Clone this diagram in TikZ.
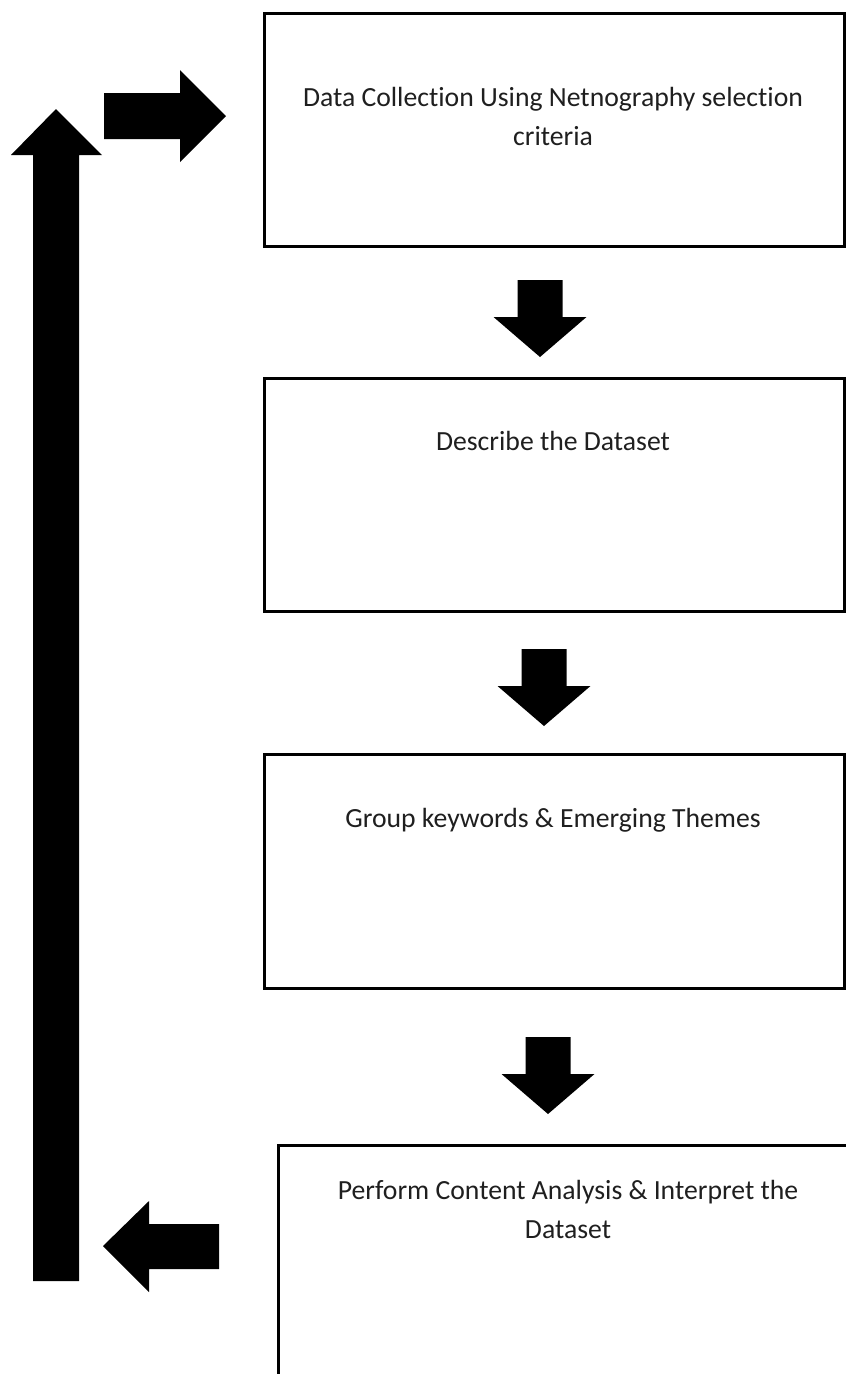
\documentclass[tikz,border=0pt]{standalone}
\usepackage{fontspec}
\setmainfont{Carlito}[Ligatures={NoCommon}]
\begin{document}
\begin{tikzpicture}[x=1pt,y=-1pt,
  stage/.style={draw=black, line width=3pt, fill=white, anchor=north west, inner sep=0pt},
  stagetext/.style={anchor=base, align=center, text=black!88, inner sep=0pt,
    font=\fontsize{27.7}{39}\selectfont},
  blockfill/.style={fill=black, draw=none},
  downblock/.pic={
    \fill[blockfill] (-22.5,-77) -- (22.5,-77) -- (22.5,-40) -- (46.5,-40)
      -- (0,0) -- (-46.5,-40) -- (-22.5,-40) -- cycle;
  }]
% page frame
\clip (0,0) rectangle (846,1374);
\fill[white] (0,0) rectangle (846,1374);

% process stages
\node[stage, minimum width=580pt, minimum height=233pt] (s1) at (263,12) {};
\node[stage, minimum width=580pt, minimum height=233pt] (s2) at (263,377) {};
\node[stage, minimum width=580pt, minimum height=234pt] (s3) at (263,753) {};
\node[stage, minimum width=620pt, minimum height=280pt] (s4) at (277,1144) {};

% labels (base anchor sits on the last line)
\node[stagetext] (t1) at (553,145) {Data Collection Using Netnography selection\\criteria};
\node[stagetext] (t2) at (553,450) {Describe the Dataset};
\node[stagetext] (t3) at (553,827) {Group keywords \& Emerging Themes};
\node[stagetext] (t4) at (568,1238) {Perform Content Analysis \& Interpret the\\Dataset};

% block arrows between stages
\pic at (540,357) {downblock};
\pic at (544,726) {downblock};
\pic at (548,1114) {downblock};

% feedback loop back to data collection
\fill[blockfill] (219,1224) -- (149,1224) -- (149,1201) -- (103,1246)
  -- (149,1292) -- (149,1269) -- (219,1269) -- cycle;
\fill[blockfill] (33,1281) -- (79,1281) -- (79,155) -- (102,155)
  -- (56,109) -- (11,155) -- (33,155) -- cycle;
\fill[blockfill] (104,93) -- (180,93) -- (180,70) -- (226,116)
  -- (180,162) -- (180,139) -- (104,139) -- cycle;
\end{tikzpicture}
\end{document}
